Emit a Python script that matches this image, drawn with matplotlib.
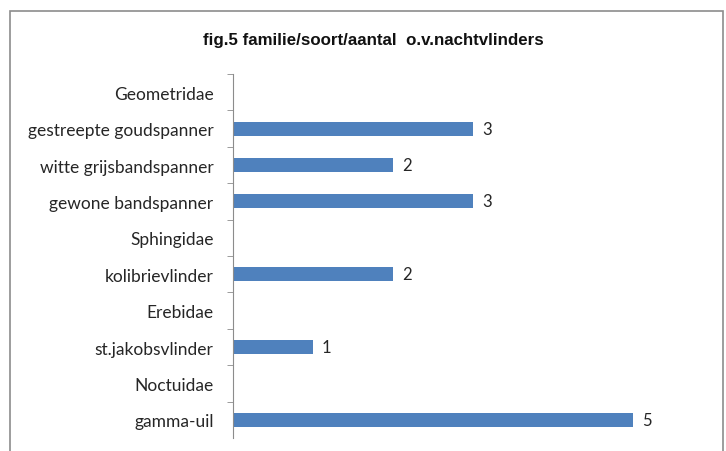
import matplotlib.pyplot as plt
from matplotlib.patches import Rectangle

# fig.5 familie/soort/aantal o.v. nachtvlinders
labels = ["Geometridae", "gestreepte goudspanner", "witte grijsbandspanner",
          "gewone bandspanner", "Sphingidae", "kolibrievlinder", "Erebidae",
          "st.jakobsvlinder", "Noctuidae", "gamma-uil"]
values = [0, 3, 2, 3, 0, 2, 0, 1, 0, 5]

bar_color = "#4F81BD"
text_color = "#262626"

fig = plt.figure(figsize=(7.26, 4.52), dpi=100)
fig.patches.append(Rectangle((10 / 726, -0.1), 713 / 726, 1.1 - 12 / 452,
                             transform=fig.transFigure, fill=False,
                             edgecolor="#8c8c8c", linewidth=1.2))

ax = fig.add_axes([233 / 726, 13 / 452, 480 / 726, 364 / 452])
pos = list(range(len(labels)))
ax.barh(pos, values, height=0.38, color=bar_color)
ax.set_ylim(len(labels) - 0.5, -0.5)
ax.set_xlim(0, 6)

for p, v in zip(pos, values):
    if v > 0:
        ax.text(v + 0.11, p, str(v), va="center", ha="left",
                fontsize=12, color=text_color, family="Lato")

ax.set_yticks(pos)
ax.set_yticklabels(labels, fontsize=12.5, color=text_color, family="Lato")
ax.tick_params(axis="y", length=0, pad=14)
ax.set_yticks([p + 0.5 for p in pos[:-1]] + [-0.5], minor=True)
ax.tick_params(axis="y", which="minor", length=4, color="#8c8c8c")
ax.set_xticks([])
for s in ["top", "right", "bottom"]:
    ax.spines[s].set_visible(False)
ax.spines["left"].set_color("#8c8c8c")

fig.text(373 / 726, 1 - 41 / 452, "fig.5 familie/soort/aantal  o.v.nachtvlinders",
         ha="center", va="center", fontsize=12.2, fontweight="bold",
         family="Liberation Sans", color="#111111")

fig.savefig("out.png", dpi=100)
